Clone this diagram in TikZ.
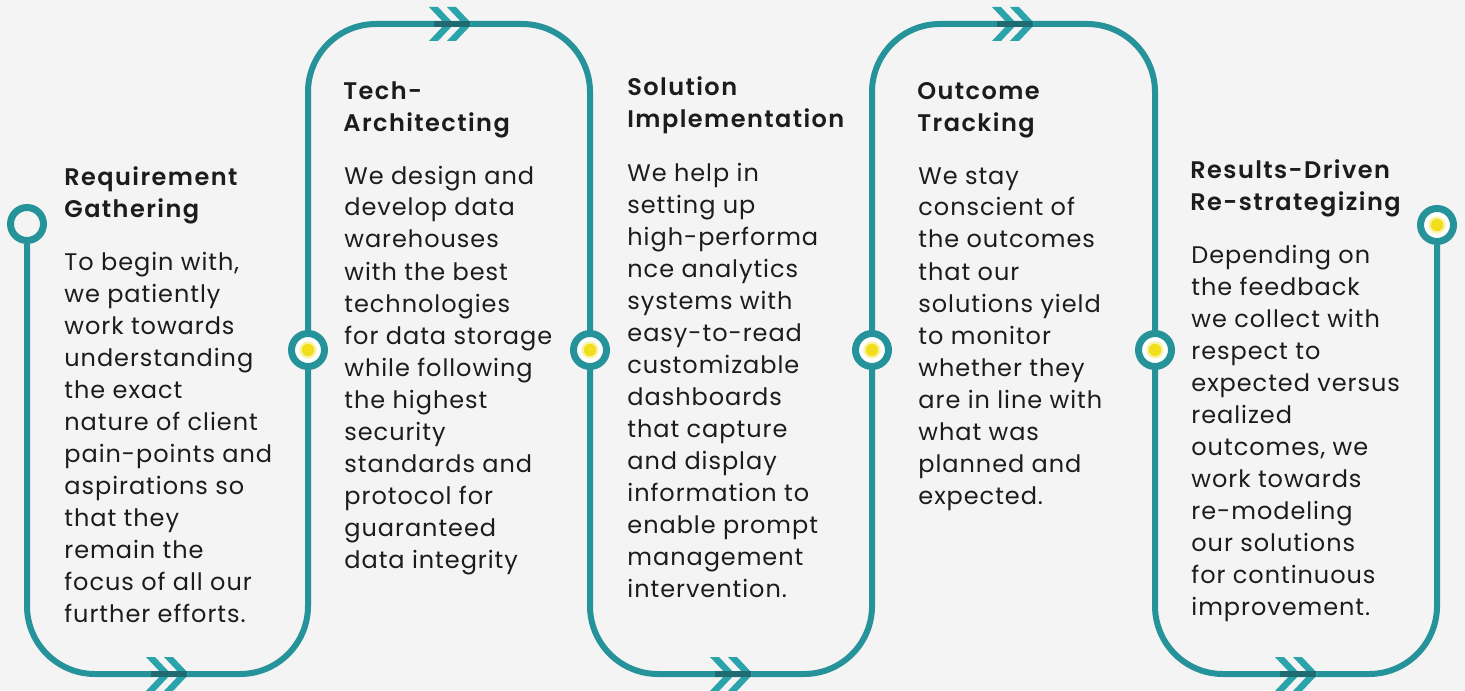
\documentclass[tikz,border=0pt]{standalone}
\usepackage{fontspec}
\setmainfont{Poppins}[BoldFont={Poppins SemiBold}]
\definecolor{bgc}{HTML}{F4F4F4}
\definecolor{tealc}{HTML}{26939A}
\definecolor{chevc}{HTML}{2AA3AB}
\definecolor{darkt}{HTML}{1F6B71}
\definecolor{yelc}{HTML}{F2DE1A}
\definecolor{yelhalo}{HTML}{FAF3A6}
\definecolor{txtc}{HTML}{1C1C1C}
\newcommand\colhead[1]{\parbox[t]{170pt}{\raggedright\fontsize{12}{16}\selectfont\bfseries\addfontfeatures{LetterSpace=6}#1}}
\newcommand\colbody[1]{\parbox[t]{170pt}{\raggedright\fontsize{12}{16}\selectfont\addfontfeatures{LetterSpace=4}#1}}
\tikzset{
  flow/.style={draw=tealc, line width=3pt, rounded corners=34pt},
  ring/.style={circle, draw=tealc, line width=3.5pt, minimum size=16.5pt, inner sep=0pt, fill=white},
  endring/.style={ring, fill=bgc},
  txt/.style={anchor=base west, inner sep=0pt, text=txtc},
  chevs/.pic={
    \fill[chevc] (-21,-17) -- (-12,-17) -- (4,0) -- (-12,17) -- (-21,17) -- (-5,0) -- cycle;
    \fill[chevc] (-3,-17) -- (6,-17) -- (22,0) -- (6,17) -- (-3,17) -- (13,0) -- cycle;
    \draw[darkt, line width=3pt] (-16,0) -- (20,0);
  }
}
\begin{document}
\begin{tikzpicture}[x=0.5pt,y=-0.5pt]
\fill[bgc] (0,0) rectangle (1465,690);
\useasboundingbox (0,0) rectangle (1465,690);

% end rings
\node[endring] (c1) at (27,224) {};
\node[ring] (c6) at (1437,225) {};

% serpentine path
\draw[flow] (c1.south) -- (27,674) -- (308,674) -- (308,24) -- (590,24) -- (590,674)
  -- (872,674) -- (872,24) -- (1155,24) -- (1155,674) -- (1437,674) -- (c6.south);

% middle rings
\node[ring] (c2) at (308,350) {};
\node[ring] (c3) at (590,350) {};
\node[ring] (c4) at (872,350) {};
\node[ring] (c5) at (1155,350) {};
\foreach \c in {c2,c3,c4,c5,c6}{
  \fill[yelhalo] (\c) circle (4.3pt);
  \fill[yelc] (\c) circle (3.1pt);
}

% chevrons
\pic at (167,674) {chevs};
\pic at (450,24) {chevs};
\pic at (731,674) {chevs};
\pic at (1013,24) {chevs};
\pic at (1296,674) {chevs};

% column 1
\node[txt] (h1) at (64,185) {\colhead{Requirement\\Gathering}};
\node[txt] (b1) at (64,270) {\colbody{To begin with,\\we patiently\\work towards\\understanding\\the exact\\nature of client\\pain-points and\\aspirations so\\that they\\remain the\\focus of all our\\further efforts.}};

% column 2
\node[txt] (h2) at (343,99) {\colhead{Tech-\\Architecting}};
\node[txt] (b2) at (344,184) {\colbody{We design and\\develop data\\warehouses\\with the best\\technologies\\for data storage\\while following\\the highest\\security\\standards and\\protocol for\\guaranteed\\data integrity}};

% column 3
\node[txt] (h3) at (627,96) {\colhead{Solution\\Implementation}};
\node[txt] (b3) at (627,181) {\colbody{We help in\\setting up\\high-performa\\nce analytics\\systems with\\easy-to-read\\customizable\\dashboards\\that capture\\and display\\information to\\enable prompt\\management\\intervention.}};

% column 4
\node[txt] (h4) at (917,99) {\colhead{Outcome\\Tracking}};
\node[txt] (b4) at (918,184) {\colbody{We stay\\conscient of\\the outcomes\\that our\\solutions yield\\to monitor\\whether they\\are in line with\\what was\\planned and\\expected.}};

% column 5
\node[txt] (h5) at (1190,178) {\colhead{Results-Driven\\Re-strategizing}};
\node[txt] (b5) at (1191,263) {\colbody{Depending on\\the feedback\\we collect with\\respect to\\expected versus\\realized\\outcomes, we\\work towards\\re-modeling\\our solutions\\for continuous\\improvement.}};
\end{tikzpicture}
\end{document}
